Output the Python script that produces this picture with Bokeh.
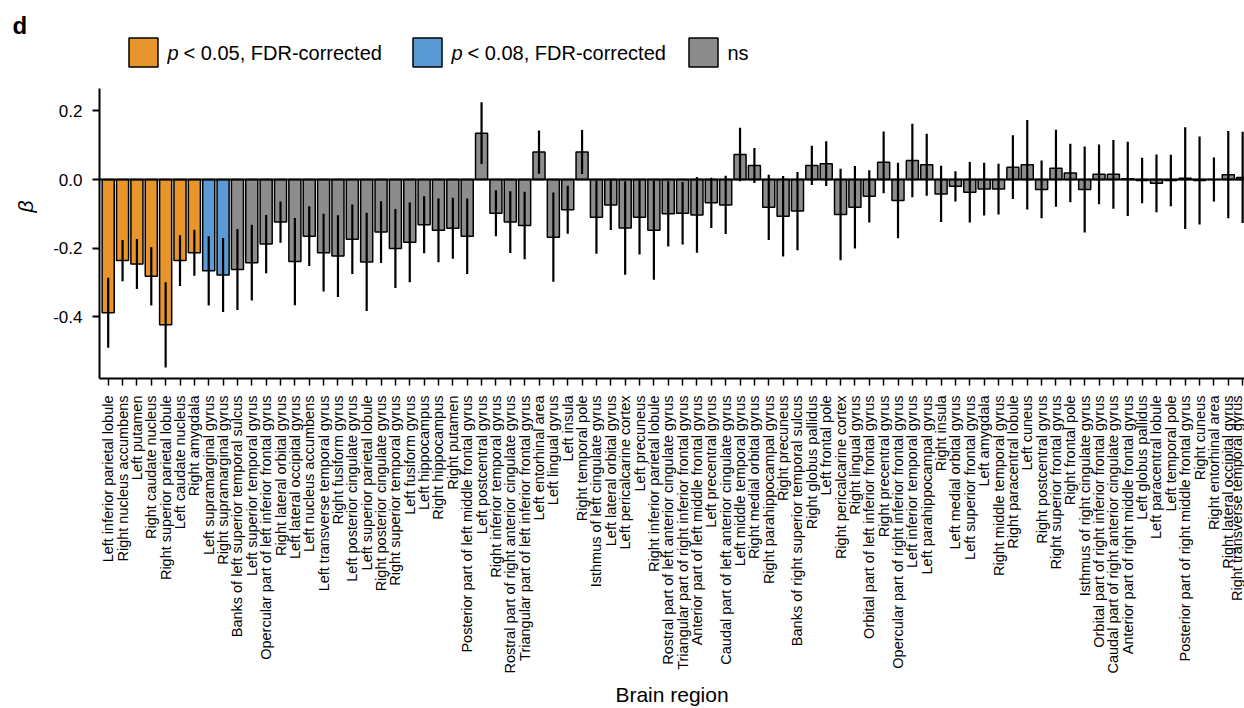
from bokeh.plotting import figure
from bokeh.models import ColumnDataSource, Span, FixedTicker, PrintfTickFormatter
from bokeh.core.properties import value
from bokeh.transform import factor_cmap
from bokeh.embed import file_html
from bokeh.resources import INLINE

# ---------------- data ----------------
regions = [
    "Left inferior parietal lobule", "Right nucleus accumbens", "Left putamen",
    "Right caudate nucleus", "Right superior parietal lobule", "Left caudate nucleus",
    "Right amygdala", "Left supramarginal gyrus", "Right supramarginal gyrus",
    "Banks of left superior temporal sulcus", "Left superior temporal gyrus",
    "Opercular part of left inferior frontal gyrus", "Right lateral orbital gyrus",
    "Left lateral occipital gyrus", "Left nucleus accumbens", "Left transverse temporal gyrus",
    "Right fusiform gyrus", "Left posterior cingulate gyrus", "Left superior parietal lobule",
    "Right posterior cingulate gyrus", "Right superior temporal gyrus", "Left fusiform gyrus",
    "Left hippocampus", "Right hippocampus", "Right putamen",
    "Posterior part of left middle frontal gyrus", "Left postcentral gyrus",
    "Right inferior temporal gyrus", "Rostral part of right anterior cingulate gyrus",
    "Triangular part of left inferior frontal gyrus", "Left entorhinal area", "Left lingual gyrus",
    "Left insula", "Right temporal pole", "Isthmus of left cingulate gyrus",
    "Left lateral orbital gyrus", "Left pericalcarine cortex", "Left precuneus",
    "Right inferior parietal lobule", "Rostral part of left anterior cingulate gyrus",
    "Triangular part of right inferior frontal gyrus", "Anterior part of left middle frontal gyrus",
    "Left precentral gyrus", "Caudal part of left anterior cingulate gyrus",
    "Left middle temporal gyrus", "Right medial orbital gyrus", "Right parahippocampal gyrus",
    "Right precuneus", "Banks of right superior temporal sulcus", "Right globus pallidus",
    "Left frontal pole", "Right pericalcarine cortex", "Right lingual gyrus",
    "Orbital part of left inferior frontal gyrus", "Right precentral gyrus",
    "Opercular part of right inferior frontal gyrus", "Left inferior temporal gyrus",
    "Left parahippocampal gyrus", "Right insula", "Left medial orbital gyrus",
    "Left superior frontal gyrus", "Left amygdala", "Right middle temporal gyrus",
    "Right paracentral lobule", "Left cuneus", "Right postcentral gyrus",
    "Right superior frontal gyrus", "Right frontal pole", "Isthmus of right cingulate gyrus",
    "Orbital part of right inferior frontal gyrus", "Caudal part of right anterior cingulate gyrus",
    "Anterior part of right middle frontal gyrus", "Left globus pallidus",
    "Left paracentral lobule", "Left temporal pole", "Posterior part of right middle frontal gyrus",
    "Right cuneus", "Right entorhinal area", "Right lateral occipital gyrus",
    "Right transverse temporal gyrus",
]

beta = [
    -0.388, -0.236, -0.246, -0.282, -0.423, -0.236, -0.213, -0.266, -0.278, -0.262,
    -0.242, -0.188, -0.124, -0.239, -0.165, -0.213, -0.223, -0.174, -0.240, -0.153,
    -0.201, -0.183, -0.132, -0.148, -0.142, -0.165, 0.135, -0.098, -0.124, -0.134,
    0.080, -0.168, -0.088, 0.080, -0.110, -0.074, -0.141, -0.110, -0.148, -0.100,
    -0.098, -0.103, -0.068, -0.074, 0.073, 0.041, -0.081, -0.107, -0.092, 0.041,
    0.046, -0.102, -0.081, -0.049, 0.050, -0.061, 0.055, 0.043, -0.042, -0.020,
    -0.037, -0.028, -0.028, 0.036, 0.043, -0.029, 0.033, 0.019, -0.029, 0.015,
    0.015, 0.002, -0.003, -0.011, -0.003, 0.004, -0.003, 0.000, 0.014, 0.006,
]

err = [
    0.102, 0.060, 0.073, 0.085, 0.124, 0.074, 0.067, 0.101, 0.108, 0.118,
    0.110, 0.085, 0.060, 0.127, 0.087, 0.113, 0.119, 0.101, 0.143, 0.090,
    0.115, 0.116, 0.083, 0.093, 0.089, 0.110, 0.090, 0.067, 0.090, 0.098,
    0.063, 0.130, 0.070, 0.064, 0.106, 0.073, 0.136, 0.108, 0.144, 0.095,
    0.091, 0.110, 0.073, 0.085, 0.078, 0.051, 0.095, 0.117, 0.114, 0.057,
    0.065, 0.133, 0.120, 0.076, 0.090, 0.110, 0.107, 0.090, 0.082, 0.044,
    0.088, 0.077, 0.074, 0.093, 0.130, 0.084, 0.112, 0.085, 0.125, 0.087,
    0.100, 0.108, 0.066, 0.084, 0.075, 0.148, 0.128, 0.064, 0.127, 0.133,
]

significance = ["p05"] * 7 + ["p08"] * 2 + ["ns"] * 71

sig_levels = ["p05", "p08", "ns"]
sig_colors = ["#E8952B", "#5B9BD5", "#8C8C8C"]
legend_texts = ["< 0.05, FDR-corrected", "< 0.08, FDR-corrected", "ns"]
legend_italic = ["p", "p", ""]

y_ticks = [-0.4, -0.2, 0.0, 0.2]

# ---------------- layout constants ----------------
FONT = "Liberation Sans"
W, H = 1244, 708
PX_LEFT, PX_RIGHT = 99, 1244          # x of frame edges
PX_TOP, PX_BOTTOM, PX_ZERO = 34, 378, 179
UNIT_PX = 343.5
SX = 14.36
X0 = 1 - (107.7 - PX_LEFT) / SX
X1 = X0 + (PX_RIGHT - PX_LEFT) / SX
Y0 = -(PX_BOTTOM - PX_ZERO) / UNIT_PX
Y1 = (PX_ZERO - PX_TOP) / UNIT_PX
AXIS_TOP = 0.265


def dx(px):
    return X0 + (px - PX_LEFT) / SX


def dy(py):
    return (PX_ZERO - py) / UNIT_PX


xs = list(range(1, len(regions) + 1))
src = ColumnDataSource(dict(
    x=xs, beta=beta, sig=significance,
    lo=[b - e for b, e in zip(beta, err)],
    hi=[b + e for b, e in zip(beta, err)],
))

p = figure(width=W, height=H, output_backend="svg", toolbar_location=None,
           x_range=(X0, X1), y_range=(Y0, Y1),
           min_border_left=PX_LEFT, min_border_right=0,
           min_border_top=PX_TOP, min_border_bottom=0)
p.outline_line_color = None
p.xgrid.visible = False
p.ygrid.visible = False
p.background_fill_color = "white"

p.title.text = "d"
p.title.align = "left"
p.title.offset = 12 - PX_LEFT
p.title.standoff = -8
p.title.vertical_align = "bottom"
p.title.text_font = FONT
p.title.text_font_size = "24px"
p.title.text_font_style = "bold"
p.title.text_color = "black"

p.vbar(x="x", top="beta", bottom=0, width=0.84, source=src,
       fill_color=factor_cmap("sig", sig_colors, sig_levels),
       line_color="black", line_width=1.5)
p.segment(x0="x", y0="lo", x1="x", y1="hi", source=src,
          line_color="black", line_width=2.2)
p.add_layout(Span(location=0, dimension="width", line_color="black", line_width=2))

# axes
xa = p.xaxis[0]
xa.ticker = FixedTicker(ticks=xs)
xa.major_label_overrides = {i: r for i, r in zip(xs, regions)}
xa.major_label_orientation = 1.5707963267948966
xa.major_label_text_font = FONT
xa.major_label_text_font_size = "14.5px"
xa.major_label_text_color = "black"
xa.major_label_standoff = 10
xa.major_tick_out = 7
xa.major_tick_in = 0
xa.major_tick_line_width = 1.5
xa.minor_tick_line_color = None
xa.axis_line_width = 2
xa.axis_label = "Brain region"
xa.axis_label_text_font = FONT
xa.axis_label_text_font_size = "21px"
xa.axis_label_text_font_style = "normal"
xa.axis_label_text_color = "black"
xa.axis_label_standoff = 6

ya = p.yaxis[0]
ya.ticker = FixedTicker(ticks=y_ticks)
ya.formatter = PrintfTickFormatter(format="%.1f")
ya.bounds = (Y0, AXIS_TOP)
ya.major_label_text_font = FONT
ya.major_label_text_font_size = "17px"
ya.major_label_text_color = "black"
ya.major_label_standoff = 10
ya.major_tick_out = 7
ya.major_tick_in = 0
ya.major_tick_line_width = 2
ya.minor_tick_line_color = None
ya.axis_line_width = 2
ya.axis_label = "β"
ya.axis_label_text_font = FONT
ya.axis_label_text_font_size = "21px"
ya.axis_label_text_font_style = "italic"
ya.axis_label_text_color = "black"
ya.axis_label_standoff = 13

# legend (drawn manually so the "p" can be italic)
sq_px = [143, 427, 703]
txt_px = [167, 451, 727]
p.scatter(x=[dx(v) for v in sq_px], y=[dy(52)] * 3, marker="square", size=29,
          fill_color=sig_colors, line_color="black", line_width=1.5)
for tx, it, tt in zip(txt_px, legend_italic, legend_texts):
    off = 0
    if it:
        p.text(x=[dx(tx)], y=[dy(52)], text=[it], text_font=value(FONT),
               text_font_size="20px", text_font_style="italic",
               text_baseline="middle", text_align="left", text_color="black")
        off = 16
    p.text(x=[dx(tx + off)], y=[dy(52)], text=[tt], text_font=value(FONT),
           text_font_size="20px", text_baseline="middle", text_align="left",
           text_color="black")

open("out.html", "w").write(file_html(p, INLINE))
